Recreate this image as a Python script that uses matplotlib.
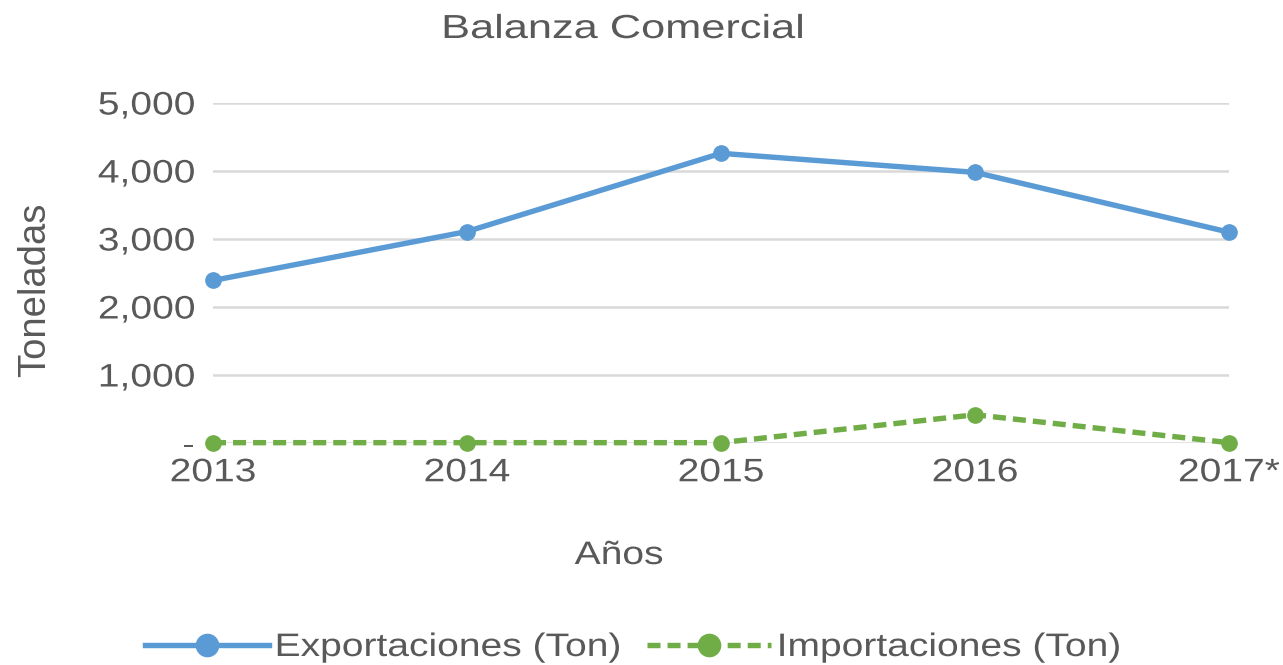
import matplotlib
matplotlib.use("Agg")
import matplotlib.pyplot as plt
from matplotlib.ticker import FuncFormatter
from matplotlib.patheffects import AbstractPathEffect
from matplotlib.transforms import Affine2D

plt.rcParams['font.family'] = ['Liberation Sans', 'DejaVu Sans']

years = ["2013", "2014", "2015", "2016", "2017*"]
exportaciones = [2390, 3110, 4260, 3980, 3100]
importaciones = [5, 5, 5, 415, 5]

gray = "#595959"
blue = "#5B9BD5"
green = "#70AD47"


class Stretch(AbstractPathEffect):
    """Widen glyphs along the baseline (the reference text is drawn wider)."""
    def __init__(self, sx, ha="center"):
        super().__init__()
        self.sx = sx
        self.ha = ha

    def draw_path(self, renderer, gc, tpath, affine, rgbFace=None):
        ext = tpath.get_extents()
        if self.ha == "center":
            cx = (ext.x0 + ext.x1) / 2
        elif self.ha == "right":
            cx = ext.x1
        else:
            cx = ext.x0
        pre = Affine2D().translate(-cx, 0).scale(self.sx, 1).translate(cx, 0)
        renderer.draw_path(gc, tpath, pre + affine, rgbFace)


W, H = 1283, 665
fig = plt.figure(figsize=(W / 100, H / 100), dpi=100)
L, R, T, B = 213, 1229, 103, 443
ax = fig.add_axes([L / W, 1 - B / H, (R - L) / W, (B - T) / H])

x = list(range(len(years)))
ax.plot(x, exportaciones, color=blue, lw=3.9, marker='o', ms=11, label="Exportaciones (Ton)",
        zorder=3, clip_on=False)
ax.plot(x, importaciones, color=green, lw=3.9, ls=(0, (2.4, 1.3)), marker='o', ms=11,
        label="Importaciones (Ton)", zorder=3, clip_on=False)

ax.set_ylim(0, 5000)
ax.set_xlim(0, 4)
ax.set_yticks([0, 1000, 2000, 3000, 4000, 5000])
ax.yaxis.set_major_formatter(FuncFormatter(lambda v, p: "-" if v == 0 else f"{int(v):,}"))
ax.set_xticks(x)
ax.set_xticklabels(years)
ax.grid(axis='y', color="#D9D9D9", lw=1.8)
ax.set_axisbelow(True)
for s in ax.spines.values():
    s.set_visible(False)
ax.tick_params(axis='both', length=0, labelsize=23.4, colors=gray)
ax.tick_params(axis='y', pad=13)
ax.tick_params(axis='x', pad=11)

for lab in ax.get_yticklabels():
    lab.set_path_effects([Stretch(1.2, "right")])
for lab in ax.get_xticklabels():
    lab.set_path_effects([Stretch(1.2, "center")])

ax.set_title("Balanza Comercial", fontsize=24, color=gray, y=1 + (T - 38) / (B - T),
             va='baseline', pad=0)
ax.title.set_x((623 - L) / (R - L))
ax.title.set_path_effects([Stretch(1.3, "center")])

ax.set_xlabel("Años", fontsize=23.4, color=gray)
ax.xaxis.set_label_coords((619 - L) / (R - L), -(541 - B) / (B - T))
ax.xaxis.label.set_path_effects([Stretch(1.2, "center")])

ax.set_ylabel("Toneladas", fontsize=27.5, color=gray)
ax.yaxis.set_label_coords((53 - L) / (R - L), (B - 290) / (B - T))

leg = fig.legend(loc='center', bbox_to_anchor=(0.4715, 1 - 648 / H), ncol=2, frameon=False,
                 fontsize=23.4, labelcolor=gray, handlelength=3.8, handletextpad=0.2,
                 columnspacing=2.55)
for t in leg.get_texts():
    t.set_path_effects([Stretch(1.2, "left")])
for h in leg.legend_handles:
    h.set_markersize(16)

fig.savefig("out.png", dpi=100)
